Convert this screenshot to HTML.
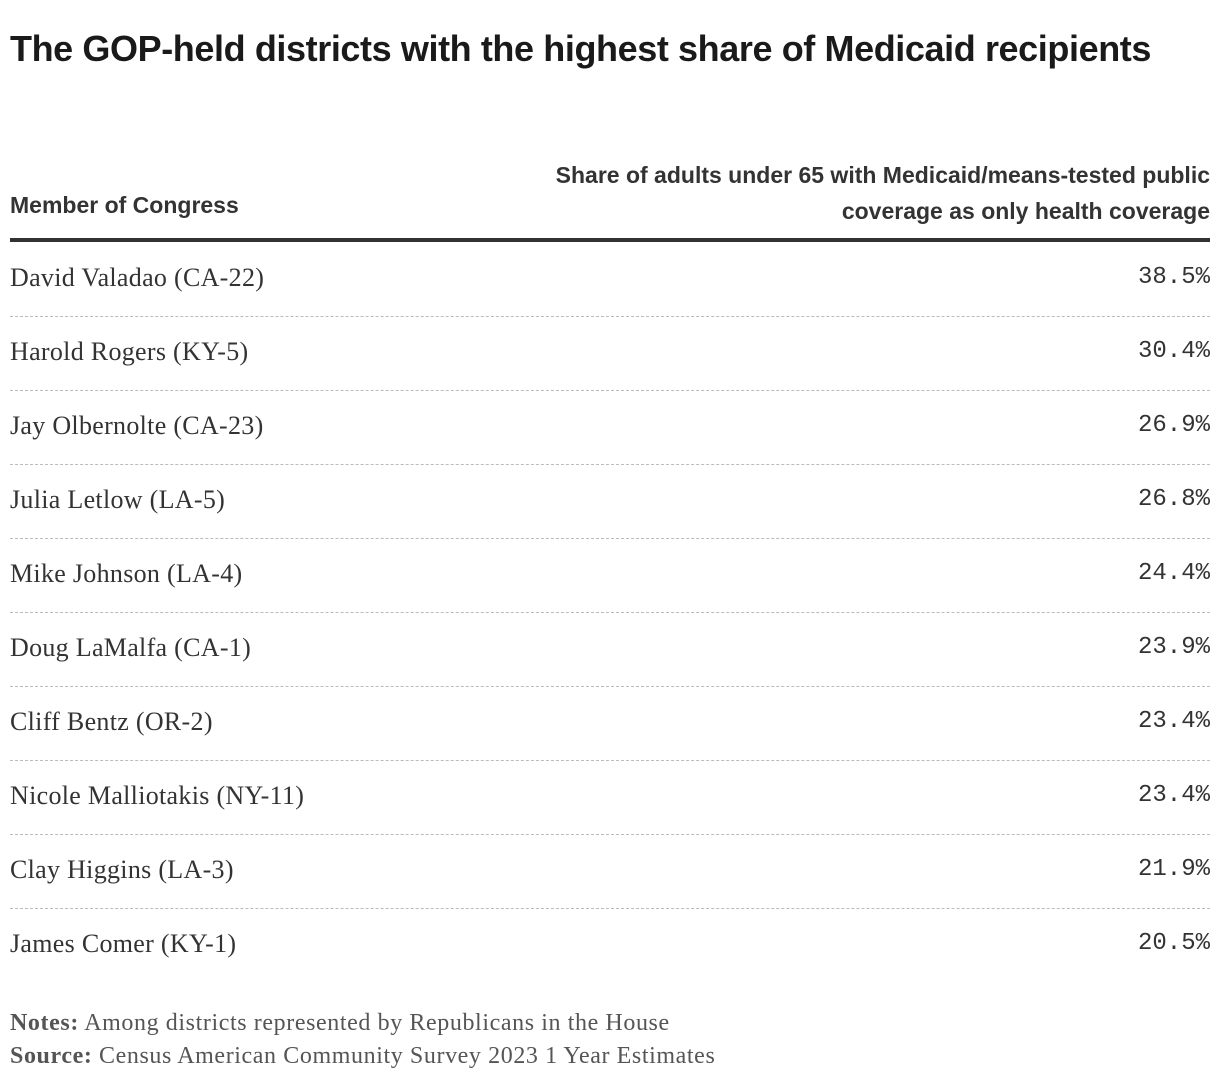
<!DOCTYPE html>
<html><head><meta charset="utf-8"><style>
body{margin:0;width:1220px;height:1092px;background:#fff;position:relative;overflow:hidden;color:#222}
.t{position:absolute;white-space:nowrap}
#title{left:10px;top:28px;font:bold 36px "Liberation Sans Narrow","Liberation Sans",sans-serif;letter-spacing:-0.4px;color:#1a1a1a}
.hd{font:bold 23px "Liberation Sans Narrow","Liberation Sans",sans-serif;color:#333}
.name{left:10px;font:26px "Liberation Serif",serif;color:#333;letter-spacing:0.3px}
.val{right:10px;font:24px "Liberation Mono",monospace;color:#333}
.sep{position:absolute;left:10px;width:1200px;border-top:1.5px dashed #bbb;height:0}
.note{left:10px;font:24px "Liberation Serif",serif;color:#555;letter-spacing:0.6px}
.note b{color:#555}
</style></head><body>
<div class="t" id="title">The GOP-held districts with the highest share of Medicaid recipients</div>
<div class="t hd" style="left:10px;top:192px">Member of Congress</div>
<div class="t hd" style="right:10px;top:157px;text-align:right;line-height:36px">Share of adults under 65 with Medicaid/means-tested public<br>coverage as only health coverage</div>
<div style="position:absolute;left:10px;top:238px;width:1200px;height:4px;background:#333"></div>
<div id="rows"></div>
<div class="t note" style="top:1010px"><b>Notes:</b> Among districts represented by Republicans in the House</div>
<div class="t note" style="top:1043px"><b>Source:</b> Census American Community Survey 2023 1 Year Estimates</div>
<script>
const members=["David Valadao (CA-22)","Harold Rogers (KY-5)","Jay Olbernolte (CA-23)","Julia Letlow (LA-5)","Mike Johnson (LA-4)","Doug LaMalfa (CA-1)","Cliff Bentz (OR-2)","Nicole Malliotakis (NY-11)","Clay Higgins (LA-3)","James Comer (KY-1)"];
const shares=[38.5,30.4,26.9,26.8,24.4,23.9,23.4,23.4,21.9,20.5];
const root=document.getElementById('rows');
const top0=242,rowH=74;
members.forEach((m,i)=>{
  const c=top0+rowH*i+rowH/2;
  const n=document.createElement('div');n.className='t name';n.style.top=(c-16)+'px';n.textContent=m;
  
  
  root.appendChild(n);
  const v=document.createElement('div');v.className='t val';v.style.top=(c-15)+'px';v.textContent=shares[i].toFixed(1)+'%';
  
  
  root.appendChild(v);
  if(i<members.length-1){
    const s=document.createElement('div');s.className='sep';s.style.top=(top0+rowH*(i+1))+'px';
    
    
    root.appendChild(s);
  }
});
</script>
</body></html>
